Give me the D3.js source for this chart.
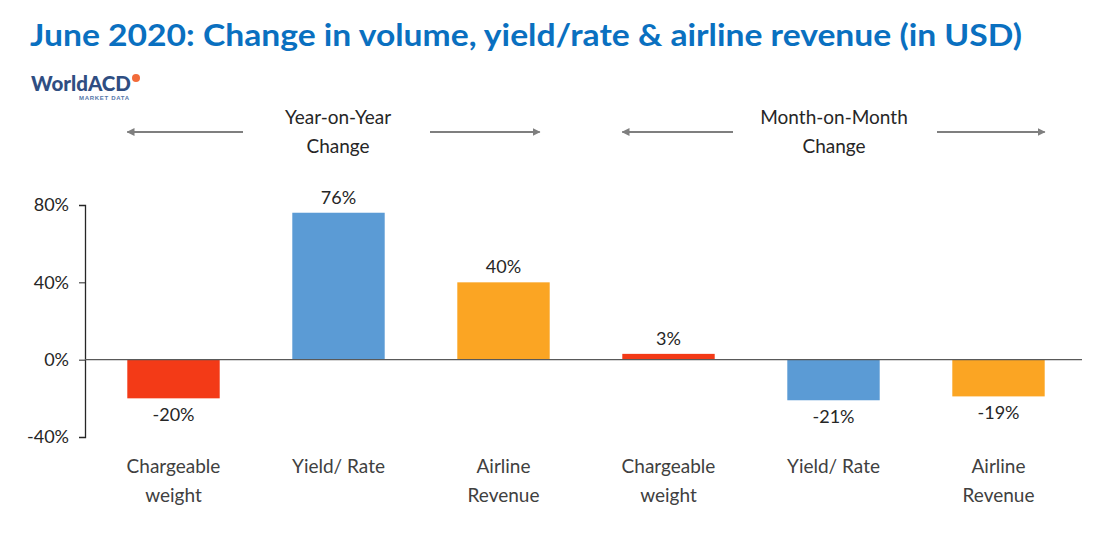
<!DOCTYPE html>
<html>
<head>
<meta charset="utf-8">
<script src="https://cdn.jsdelivr.net/npm/d3@7.9.0/dist/d3.min.js"></script>
<style>
  body { margin: 0; background: #fff; }
  svg { display: block; font-family: Lato, "Open Sans", sans-serif; }
</style>
</head>
<body>
<svg id="chart" width="1116" height="548"></svg>
<script>
// categories and values
const categories = ['cw_yoy', 'yr_yoy', 'ar_yoy', 'cw_mom', 'yr_mom', 'ar_mom'];
const labelLines = [
    ['Chargeable', 'weight'],
    ['Yield/ Rate'],
    ['Airline', 'Revenue'],
    ['Chargeable', 'weight'],
    ['Yield/ Rate'],
    ['Airline', 'Revenue'],
];
const values = [-20, 76, 40, 3, -21, -19];
const barColors = ['#f33a17', '#5b9bd5', '#fba523', '#f33a17', '#5b9bd5', '#fba523'];
const yTicks = [-40, 0, 40, 80];
const groups = [
    { lines: ['Year-on-Year', 'Change'], from: 0, to: 2 },
    { lines: ['Month-on-Month', 'Change'], from: 3, to: 5 },
];

const svg = d3.select('#chart');
const textColor = '#404040';

const x = d3.scaleBand()
    .domain(categories)
    .range([91, 1081])
    .paddingInner(0.44)
    .paddingOuter(0.22);

const y = d3.scaleLinear()
    .domain([-40, 80])
    .range([437, 205]);

// title
svg.append('text')
    .attr('x', 30)
    .attr('y', 46)
    .attr('fill', '#0a70c0')
    .attr('font-weight', 'bold')
    .attr('font-size', 30)
    .attr('textLength', 992)
    .attr('lengthAdjust', 'spacingAndGlyphs')
    .text('June 2020: Change in volume, yield/rate & airline revenue (in USD)');

// logo
const logo = svg.append('g').attr('transform', 'translate(31,91)');
logo.append('text')
    .attr('font-family', 'Lato, sans-serif')
    .attr('font-weight', 900)
    .attr('font-size', 21)
    .attr('fill', '#2f4e82')
    .attr('textLength', 100)
    .attr('lengthAdjust', 'spacingAndGlyphs')
    .text('WorldACD');
logo.append('circle')
    .attr('cx', 105).attr('cy', -13).attr('r', 4)
    .attr('fill', '#f26b3a');
logo.append('text')
    .attr('x', 48).attr('y', 9)
    .attr('font-family', '"Liberation Sans", Arial, sans-serif')
    .attr('font-weight', 'bold')
    .attr('font-size', 6)
    .attr('fill', '#5577aa')
    .attr('textLength', 50)
    .text('MARKET DATA');

// group headers with arrows
svg.append('defs').append('marker')
    .attr('id', 'arrow')
    .attr('viewBox', '0 0 10 10')
    .attr('refX', 9).attr('refY', 5)
    .attr('markerWidth', 4).attr('markerHeight', 4)
    .attr('orient', 'auto-start-reverse')
    .append('path')
    .attr('d', 'M0,0L10,5L0,10Z')
    .attr('fill', '#7f7f7f');

groups.forEach((g, gi) => {
    const left = x(categories[g.from]);
    const right = x(categories[g.to]) + x.bandwidth() - (gi === 0 ? 10 : 0);
    const mid = gi === 0 ? 338 : 834;
    const ay = 132;
    const gapL = gi === 0 ? 95 : 101;
    const gapR = gi === 0 ? 92 : 103;

    svg.append('line')
        .attr('x1', left).attr('x2', mid - gapL)
        .attr('y1', ay).attr('y2', ay)
        .attr('stroke', '#7f7f7f').attr('stroke-width', 2)
        .attr('marker-start', 'url(#arrow)');
    svg.append('line')
        .attr('x1', mid + gapR).attr('x2', right)
        .attr('y1', ay).attr('y2', ay)
        .attr('stroke', '#7f7f7f').attr('stroke-width', 2)
        .attr('marker-end', 'url(#arrow)');

    g.lines.forEach((line, i) => {
        svg.append('text')
            .attr('x', mid)
            .attr('y', 124 + i * 29)
            .attr('text-anchor', 'middle')
            .attr('font-size', 19)
            .attr('fill', '#262626')
            .text(line);
    });
});

// bars
svg.selectAll('rect.bar')
    .data(values)
    .join('rect')
    .attr('class', 'bar')
    .attr('x', (d, i) => x(categories[i]))
    .attr('width', x.bandwidth())
    .attr('y', (d) => y(Math.max(0, d)))
    .attr('height', (d) => Math.abs(y(d) - y(0)))
    .attr('fill', (d, i) => barColors[i]);

// value labels
svg.selectAll('text.value')
    .data(values)
    .join('text')
    .attr('class', 'value')
    .attr('x', (d, i) => x(categories[i]) + x.bandwidth() / 2)
    .attr('y', (d) => d >= 0 ? y(d) - 9 : y(d) + 23)
    .attr('text-anchor', 'middle')
    .attr('font-size', 18)
    .attr('fill', '#262626')
    .text((d) => `${d}%`);

// y axis
const yAxis = svg.append('g')
    .attr('transform', 'translate(85,0)')
    .call(d3.axisLeft(y).tickValues(yTicks).tickSize(6).tickFormat((d) => `${d}%`));
yAxis.select('.domain').attr('stroke', '#262626').attr('stroke-width', 1.3);
yAxis.selectAll('.tick line').attr('stroke', '#262626');
yAxis.selectAll('.tick text')
    .attr('font-size', 18)
    .attr('font-family', 'Lato, "Open Sans", sans-serif')
    .attr('fill', '#262626')
    .attr('x', -16);

// zero line
svg.append('line')
    .attr('x1', 85).attr('x2', 1082)
    .attr('y1', y(0)).attr('y2', y(0))
    .attr('stroke', '#595959').attr('stroke-width', 1.3);

// category labels
labelLines.forEach((lines, i) => {
    lines.forEach((line, j) => {
        svg.append('text')
            .attr('x', x(categories[i]) + x.bandwidth() / 2)
            .attr('y', 473 + j * 29)
            .attr('text-anchor', 'middle')
            .attr('font-size', 19)
            .attr('fill', textColor)
            .text(line);
    });
});
</script>
</body>
</html>
